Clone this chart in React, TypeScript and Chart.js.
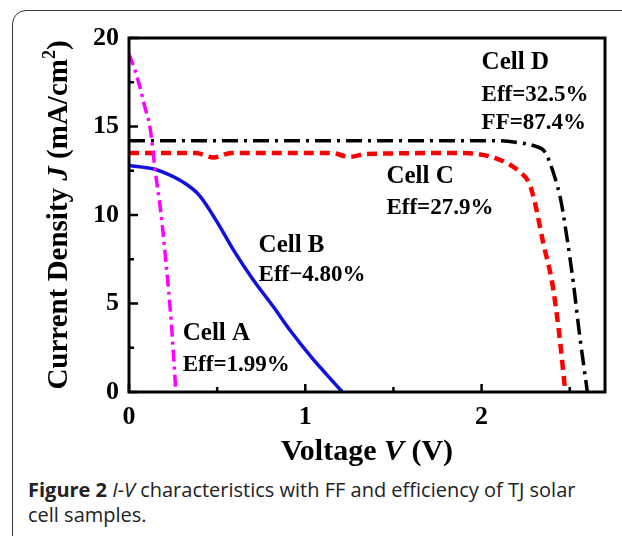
import { useEffect, useRef } from 'react';
import { Chart, registerables } from 'chart.js';

Chart.register(...registerables);

const SERIF = '"Liberation Serif", "Times New Roman", serif';

// Axis ticks
const X_TICKS = [0, 1, 2];
const X_MINOR = [0.5, 1.5, 2.5];
const Y_TICKS = [0, 5, 10, 15, 20];
const Y_MINOR = [2.5, 7.5, 12.5, 17.5];

// Cell A: voltage (V) and current density (mA/cm2)
const cellAV = [0, 0.03, 0.06, 0.09, 0.12, 0.15, 0.18, 0.21, 0.24, 0.266];
const cellAJ = [19.1, 18.3, 17.3, 16.1, 14.9, 12.4, 10.2, 7.3, 3.9, 0];

// Cell B
const cellBV = [0, 0.14, 0.2, 0.3, 0.4, 0.5, 0.6, 0.7, 0.82, 0.92, 1.04, 1.12, 1.21];
const cellBJ = [12.8, 12.6, 12.4, 11.9, 11.1, 9.6, 7.9, 6.4, 4.8, 3.4, 1.9, 1.0, 0];

// Cell C
const cellCV = [0, 0.38, 0.48, 0.58, 1.0, 1.15, 1.25, 1.35, 1.9, 2.05, 2.15, 2.22, 2.27, 2.3, 2.35, 2.4, 2.44, 2.475];
const cellCJ = [13.5, 13.5, 13.25, 13.5, 13.5, 13.5, 13.28, 13.45, 13.5, 13.3, 12.9, 12.4, 11.8, 10.8, 8.4, 6.2, 3.3, 0];

// Cell D
const cellDV = [0, 2.1, 2.2, 2.3, 2.36, 2.41, 2.45, 2.48, 2.52, 2.555, 2.6];
const cellDJ = [14.2, 14.2, 14.1, 13.9, 13.55, 12.3, 10.8, 9.0, 6.2, 3.3, 0];

// Annotation text and anchor (left edge V, vertical centre J)
const NOTE_TEXT = [
  ['Cell D', 'Eff=32.5%', 'FF=87.4%'],
  ['Cell C', 'Eff=27.9%'],
  ['Cell B', 'Eff\u22124.80%'],
  ['Cell A', 'Eff=1.99%'],
];
const NOTE_V = [2.0, 1.46, 0.735, 0.305];
const NOTE_J = [[18.6, 16.75, 15.2], [12.15, 10.4], [8.3, 6.6], [3.3, 1.5]];

const pts = (vs: number[], js: number[]) => vs.map((v, i) => ({ x: v, y: js[i] }));

type Run = { t: string; font: string; dy?: number };

function drawRuns(ctx: CanvasRenderingContext2D, runs: Run[], cx: number, by: number) {
  let total = 0;
  const widths = runs.map((r) => {
    ctx.font = r.font;
    const w = ctx.measureText(r.t).width;
    total += w;
    return w;
  });
  let x = cx - total / 2;
  ctx.textAlign = 'left';
  ctx.textBaseline = 'alphabetic';
  runs.forEach((r, i) => {
    ctx.font = r.font;
    ctx.fillText(r.t, x, by + (r.dy || 0));
    x += widths[i];
  });
}

const decorPlugin = {
  id: 'decor',
  afterDraw(chart: any) {
    const { ctx, chartArea: a, scales } = chart;
    const xs = scales.x;
    const ys = scales.y;
    ctx.save();
    ctx.fillStyle = '#000';
    ctx.strokeStyle = '#000';

    // plot frame
    ctx.lineWidth = 3;
    ctx.strokeRect(a.left, a.top, a.right - a.left, a.bottom - a.top);

    // inward tick marks
    ctx.lineWidth = 2.5;
    ctx.beginPath();
    X_TICKS.forEach((v) => {
      const p = xs.getPixelForValue(v);
      ctx.moveTo(p, a.bottom);
      ctx.lineTo(p, a.bottom - 8);
    });
    X_MINOR.forEach((v) => {
      const p = xs.getPixelForValue(v);
      ctx.moveTo(p, a.bottom);
      ctx.lineTo(p, a.bottom - 5);
    });
    Y_TICKS.forEach((v) => {
      const p = ys.getPixelForValue(v);
      ctx.moveTo(a.left, p);
      ctx.lineTo(a.left + 9, p);
    });
    Y_MINOR.forEach((v) => {
      const p = ys.getPixelForValue(v);
      ctx.moveTo(a.left, p);
      ctx.lineTo(a.left + 5, p);
    });
    ctx.stroke();

    // cell annotations
    ctx.textAlign = 'left';
    ctx.textBaseline = 'middle';
    NOTE_TEXT.forEach((lines, i) => {
      const px = xs.getPixelForValue(NOTE_V[i]);
      lines.forEach((t, k) => {
        ctx.font = `bold ${k === 0 ? 25 : 23}px ${SERIF}`;
        ctx.fillText(t, px, ys.getPixelForValue(NOTE_J[i][k]));
      });
    });

    // x axis title
    const xf = `bold 30px ${SERIF}`;
    const xfi = `italic bold 30px ${SERIF}`;
    drawRuns(ctx, [
      { t: 'Voltage ', font: xf },
      { t: 'V', font: xfi },
      { t: ' (V)', font: xf },
    ], (a.left + a.right) / 2 + 0, 460);

    // y axis title
    const yf = `bold 29px ${SERIF}`;
    const yfi = `italic bold 29px ${SERIF}`;
    ctx.translate(67, (a.top + a.bottom) / 2);
    ctx.rotate(-Math.PI / 2);
    drawRuns(ctx, [
      { t: 'Current Density ', font: yf },
      { t: 'J', font: yfi },
      { t: ' (mA/cm', font: yf },
      { t: '2', font: `bold 18px ${SERIF}`, dy: -12 },
      { t: ')', font: yf },
    ], 0, 0);
    ctx.restore();
  },
};

export default function App() {
  const ref = useRef<HTMLCanvasElement>(null);

  useEffect(() => {
    if (!ref.current) return;
    const tickFont = { family: SERIF, size: 26, weight: 'bold' as const };
    const chart = new Chart(ref.current, {
      type: 'line',
      data: {
        datasets: [
          {
            label: 'Cell A',
            data: pts(cellAV, cellAJ),
            borderColor: '#ff00ff',
            borderWidth: 3.5,
            borderDash: [12, 5, 3, 5],
          },
          {
            label: 'Cell B',
            data: pts(cellBV, cellBJ),
            borderColor: '#1010e0',
            borderWidth: 3.5,
          },
          {
            label: 'Cell C',
            data: pts(cellCV, cellCJ),
            borderColor: '#ff0000',
            borderWidth: 4.5,
            borderDash: [10, 6],
          },
          {
            label: 'Cell D',
            data: pts(cellDV, cellDJ),
            borderColor: '#000000',
            borderWidth: 3.5,
            borderDash: [16, 6, 3, 6],
          },
        ],
      },
      options: {
        animation: false,
        responsive: false,
        maintainAspectRatio: false,
        events: [],
        elements: {
          point: { radius: 0 },
          line: { cubicInterpolationMode: 'monotone', fill: false },
        },
        layout: { padding: { left: 0, right: 17, top: 38, bottom: 0 } },
        plugins: { legend: { display: false }, tooltip: { enabled: false } },
        scales: {
          x: {
            type: 'linear',
            min: 0,
            max: 2.7,
            grid: { display: false, drawTicks: false },
            border: { display: false },
            ticks: { font: tickFont, color: '#000', padding: 10, maxRotation: 0 },
            afterBuildTicks: (s: any) => {
              s.ticks = X_TICKS.map((v) => ({ value: v }));
            },
            afterFit: (s: any) => {
              s.height = 78;
            },
          },
          y: {
            type: 'linear',
            min: 0,
            max: 20,
            grid: { display: false, drawTicks: false },
            border: { display: false },
            ticks: { font: tickFont, color: '#000', padding: 10 },
            afterBuildTicks: (s: any) => {
              s.ticks = Y_TICKS.map((v) => ({ value: v }));
            },
            afterFit: (s: any) => {
              s.width = 129;
            },
          },
        },
      },
      plugins: [decorPlugin],
    });
    return () => chart.destroy();
  }, []);

  return (
    <div style={{ position: 'fixed', left: 0, top: 0, width: 622, height: 536, background: '#fff', overflow: 'hidden' }}>
      <div
        style={{
          position: 'absolute',
          left: 12,
          top: 10,
          width: 700,
          height: 540,
          border: '1.5px solid #3a3a3a',
          borderRadius: 14,
          boxSizing: 'border-box',
        }}
      />
      <canvas ref={ref} width={622} height={470} style={{ position: 'absolute', left: 0, top: 0 }} />
      <div
        style={{
          position: 'absolute',
          left: 28,
          top: 477,
          fontFamily: '"Open Sans", sans-serif',
          fontSize: 20,
          lineHeight: '25px',
          color: '#222',
          whiteSpace: 'nowrap',
        }}
      >
        <b>Figure 2</b> <i>I-V</i> characteristics with FF and efficiency of TJ solar
        <br />
        cell samples.
      </div>
    </div>
  );
}
